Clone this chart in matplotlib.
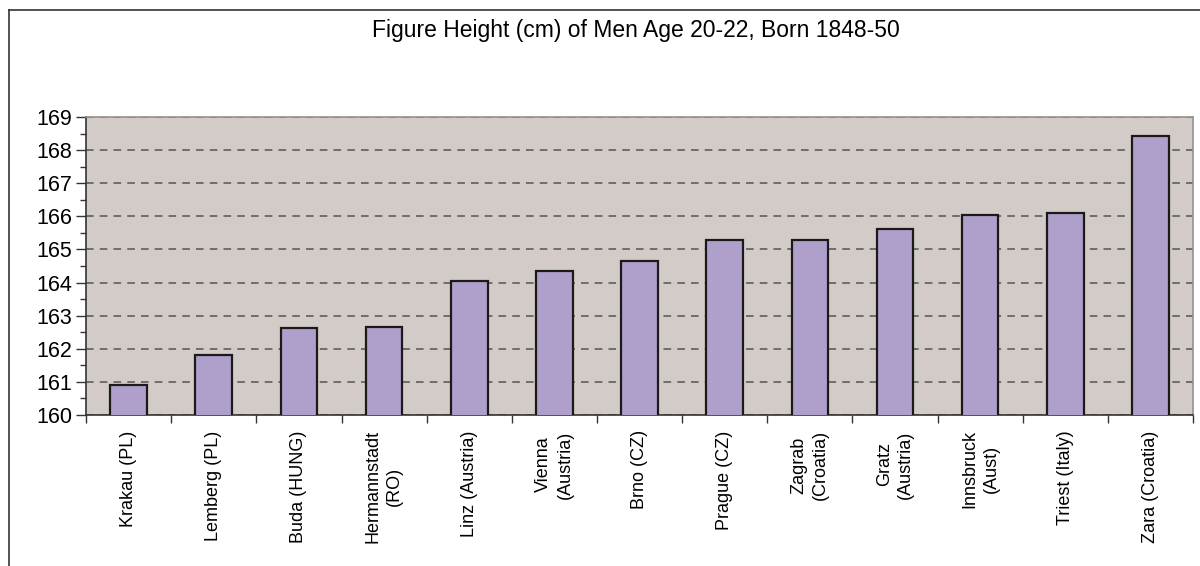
import matplotlib.pyplot as plt
from matplotlib.lines import Line2D
from matplotlib.ticker import MultipleLocator

plt.rcParams['font.family'] = ['Liberation Sans', 'DejaVu Sans']

cities = ['Krakau (PL)', 'Lemberg (PL)', 'Buda (HUNG)', 'Hermannstadt\n(RO)',
          'Linz (Austria)', 'Vienna\n(Austria)', 'Brno (CZ)', 'Prague (CZ)',
          'Zagrab\n(Croatia)', 'Gratz\n(Austria)', 'Innsbruck\n(Aust)',
          'Triest (Italy)', 'Zara (Croatia)']
heights = [160.9, 161.82, 162.64, 162.65, 164.05, 164.35, 164.65,
           165.28, 165.28, 165.62, 166.05, 166.1, 168.42]

fig = plt.figure(figsize=(12, 5.66), dpi=100)
ax = fig.add_axes([0.0717, 0.2668, 0.9225, 0.5265])
ax.set_facecolor('#D3CBC8')

x = range(len(cities))
ax.bar(x, heights, width=0.43, bottom=0, color='#AF9FCB',
       edgecolor='#1a1a1a', linewidth=1.6, zorder=3)

ax.set_ylim(160, 169)
ax.set_xlim(-0.5, len(cities) - 0.5)
ax.yaxis.set_major_locator(MultipleLocator(1))
ax.yaxis.set_minor_locator(MultipleLocator(0.5))
ax.grid(axis='y', which='major', linestyle=(0, (5, 4)), color='#555555',
        linewidth=1.1, zorder=1)

# category labels at centres, tick marks between categories
ax.set_xticks(list(x))
ax.set_xticklabels(cities, rotation=90, fontsize=13, va='top',
                   ha='center', multialignment='center', linespacing=1.35)
ax.tick_params(axis='x', which='major', length=0, pad=11)
ax.set_xticks([i + 0.5 for i in range(-1, len(cities))], minor=True)
ax.tick_params(axis='x', which='minor', length=6, width=1, color='#333333')
ax.tick_params(axis='y', which='major', length=7, width=1, color='#333333',
               labelsize=15.5, pad=3)
ax.tick_params(axis='y', which='minor', length=4, width=1, color='#333333')

for s in ['top', 'right']:
    ax.spines[s].set_color('#9a8f8c')
    ax.spines[s].set_linewidth(1.2)
for s in ['left', 'bottom']:
    ax.spines[s].set_color('#333333')
    ax.spines[s].set_linewidth(1.2)

fig.text(0.53, 1 - 31 / 566, 'Figure Height (cm) of Men Age 20-22, Born 1848-50',
         ha='center', va='center', fontsize=16.5)

# outer chart frame (left and top edges visible)
fig.add_artist(Line2D([9 / 1200, 9 / 1200], [0, 1 - 10 / 566],
                      color='#333333', linewidth=1.2))
fig.add_artist(Line2D([9 / 1200, 1], [1 - 10 / 566, 1 - 10 / 566],
                      color='#333333', linewidth=1.2))

fig.savefig('out.png', dpi=100)
